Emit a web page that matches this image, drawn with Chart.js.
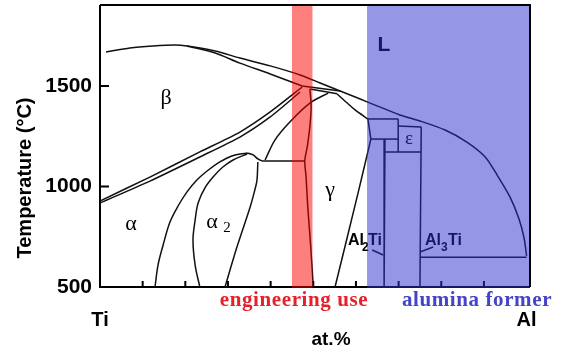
<!DOCTYPE html>
<html><head><meta charset="utf-8">
<script src="https://cdn.jsdelivr.net/npm/chart.js@4.4.1/dist/chart.umd.min.js"></script>
<style>html,body{margin:0;padding:0;background:#fff;overflow:hidden}#wrap{width:565px;height:347px;position:relative}</style>
</head><body><div id="wrap"><canvas id="c" width="565" height="347"></canvas></div>
<script>
// ---- axis ticks ----
const xTicks = [0,10,20,30,40,50,60,70,80,90,100];
const xTickLabels = {0:'Ti', 100:'Al'};
const yTicks = [500,1000,1500];
// ---- highlighted composition ranges (at.% Al) ----
const engineeringRange = [45, 49.8];
const aluminaRange = [62.6, 100.8];
// ---- phase boundaries [at.% Al, °C] ----
const liquidus = [[1.4,1669],[7.0,1689],[12.4,1699],[17.6,1704],[20.4,1699],[27.0,1674],[32.8,1639],[39.9,1600],[46.9,1555],[51.6,1515],[56.3,1475],[61.0,1435],[64.5,1405],[70.3,1356],[75.0,1326],[80.9,1281],[86.0,1221],[90.3,1147],[93.1,1057],[96.1,948],[98.2,840],[99.4,745],[100,655]];
const betaSolidus = [[20.4,1699],[27.0,1664],[32.8,1614],[39.9,1560],[47.4,1500]];
const betaTransusUpper = [[0,928],[11.7,1047],[23.4,1172],[32.8,1271],[39.9,1371],[47.4,1495]];
const betaTransusLower = [[0,918],[11.7,1027],[23.4,1147],[32.8,1246],[39.9,1346],[46.9,1470]];
const peritecticUpper = [[47.4,1500],[56.3,1475]];
const peritecticLower = [[49.2,1485],[55.6,1462]];
const alphaGammaLine = [[53.5,1465],[49.2,1415],[44.5,1321],[41.0,1231],[38.7,1132]];
const gammaLeft = [[49.2,1485],[49.5,1400],[49.2,1300],[48.6,1200],[48.0,1127],[48.3,1050],[48.7,900],[49.4,700],[50.0,500]];
const eutectoid = [[38.0,1127],[48.0,1127]];
const alphaBoundary = [[12.9,500],[13.6,609],[14.8,709],[16.4,823],[18.3,903],[20.4,973],[22.7,1032],[25.1,1077],[28.1,1122],[30.9,1152],[34.5,1167]];
const alpha2Left = [[23.4,500],[22.3,609],[21.8,734],[22.3,833],[23.0,918],[24.6,993],[26.5,1047],[28.8,1097],[31.2,1132],[34.5,1162]];
const alpha2Right = [[29.3,500],[32.1,699],[35.2,898],[36.3,983],[36.8,1032],[37.0,1122]];
const alpha2Top = [[34.5,1167],[35.9,1157],[37.0,1137],[38.0,1127]];
const gammaSolidus = [[55.6,1460],[59.8,1381],[62.8,1336]];
const gammaRight = [[63.5,1236],[60.5,968],[55.1,500]];
const boxTop = [[62.8,1336],[69.9,1336]];
const boxLeft = [[62.8,1336],[63.5,1236]];
const boxBottom = [[63.5,1236],[69.9,1236]];
const boxRight = [[69.9,1336],[69.9,1172]];
const al2TiLine = [[66.8,1236],[66.6,500]];
const midHorizontal = [[66.8,1172],[75.3,1172]];
const epsilonTop = [[69.9,1301],[75.3,1296]];
const al3TiLine = [[75.3,1296],[75.0,500]];
const al3TiLiquid = [[75.0,648],[100,648]];
const al2TiLeader = [[63.8,684],[66.4,659]];
const al3TiLeader = [[75.0,674],[78.1,699]];

const curves = [
  [liquidus,0.25],[betaSolidus,0.3],[betaTransusUpper,0.2],[betaTransusLower,0.2],
  [peritecticUpper,0],[peritecticLower,0],[alphaGammaLine,0.3],[gammaLeft,0.3],
  [eutectoid,0],[alphaBoundary,0.35],[alpha2Left,0.35],[alpha2Right,0.3],[alpha2Top,0.3],
  [gammaSolidus,0.2],[gammaRight,0.2],[boxTop,0],[boxLeft,0],[boxBottom,0],[boxRight,0],
  [al2TiLine,0],[midHorizontal,0],[epsilonTop,0],[al3TiLine,0],[al3TiLiquid,0],
  [al2TiLeader,0],[al3TiLeader,0]
];
const datasets = curves.map(([pts,t]) => ({
  data: pts.map(p => ({x:p[0], y:p[1]})),
  showLine: true, pointRadius: 0, borderColor: '#111', borderWidth: 1.5,
  tension: t, fill: false
}));

const SANS = '"Liberation Sans", Arial, sans-serif';
const SERIF = '"Liberation Serif", "Times New Roman", serif';

const deco = {
  id: 'deco',
  beforeDatasetsDraw(chart) {
    const {ctx, chartArea: a, scales: {x, y}} = chart;
    ctx.save();
    ctx.strokeStyle = '#000'; ctx.lineWidth = 2;
    ctx.beginPath();
    ctx.moveTo(a.left, a.top); ctx.lineTo(a.left, a.bottom); ctx.lineTo(a.right, a.bottom);
    xTicks.forEach(v => { if (v > 0 && v < 100) { const px = x.getPixelForValue(v); ctx.moveTo(px, a.bottom); ctx.lineTo(px, a.bottom - 6); } });
    yTicks.forEach(v => { if (v > 500) { const py = y.getPixelForValue(v); ctx.moveTo(a.left, py); ctx.lineTo(a.left + 9, py); } });
    ctx.stroke();
    ctx.fillStyle = '#000'; ctx.textAlign = 'center'; ctx.textBaseline = 'middle';
    ctx.font = '22px ' + SERIF;
    ctx.fillText('β', 166, 98);
    ctx.fillText('α', 131, 224);
    ctx.fillText('α', 212, 222);
    ctx.fillText('γ', 330, 190);
    ctx.font = '15px ' + SERIF;
    ctx.fillText('2', 227, 228);
    ctx.font = '19px ' + SERIF;
    ctx.fillText('ε', 409, 139);
    ctx.font = 'bold 21px ' + SANS;
    ctx.fillText('L', 384, 45);
    ctx.textAlign = 'left'; ctx.textBaseline = 'alphabetic';
    ctx.font = 'bold 16px ' + SANS;
    ctx.fillText('Al', 348, 245); ctx.fillText('Ti', 368, 245);
    ctx.fillText('Al', 425, 245); ctx.fillText('Ti', 448, 245);
    ctx.font = 'bold 12px ' + SANS;
    ctx.fillText('2', 362, 251); ctx.fillText('3', 441, 251);
    ctx.restore();
  },
  afterDatasetsDraw(chart) {
    const {ctx, chartArea: a, scales: {x}} = chart;
    ctx.save();
    ctx.fillStyle = 'rgba(255,0,0,0.5)';
    let x0 = x.getPixelForValue(engineeringRange[0]), x1 = x.getPixelForValue(engineeringRange[1]);
    ctx.fillRect(x0, a.top, x1 - x0, a.bottom - a.top + 1);
    ctx.fillStyle = 'rgba(45,45,205,0.5)';
    x0 = x.getPixelForValue(aluminaRange[0]); x1 = x.getPixelForValue(aluminaRange[1]);
    ctx.fillRect(x0, a.top, x1 - x0, a.bottom - a.top + 1);
    ctx.strokeStyle = '#000'; ctx.lineWidth = 2;
    ctx.beginPath();
    ctx.moveTo(a.left, a.top); ctx.lineTo(a.right, a.top); ctx.lineTo(a.right, a.bottom);
    ctx.stroke();
    ctx.textAlign = 'center'; ctx.textBaseline = 'alphabetic';
    ctx.font = 'bold 21px ' + SERIF;
    ctx.letterSpacing = '0.6px';
    ctx.fillStyle = '#e8202a';
    ctx.fillText('engineering use', 294, 306);
    ctx.fillStyle = '#4444c8';
    ctx.fillText('alumina former', 477, 306);
    ctx.letterSpacing = '0px';
    ctx.fillStyle = '#000';
    ctx.font = 'bold 19px ' + SANS;
    ctx.fillText('at.%', 331, 345);
    ctx.translate(25, 178); ctx.rotate(-Math.PI / 2);
    ctx.textBaseline = 'middle';
    ctx.font = 'bold 20px ' + SANS;
    ctx.fillText('Temperature (°C)', 0, 0);
    ctx.restore();
  }
};

new Chart(document.getElementById('c'), {
  type: 'scatter',
  data: { datasets },
  options: {
    responsive: false, animation: false, devicePixelRatio: 1,
    layout: { padding: { left: 40, top: 5, right: 35, bottom: 20 } },
    plugins: { legend: { display: false }, tooltip: { enabled: false } },
    scales: {
      x: {
        type: 'linear', position: 'bottom', min: 0, max: 100.8,
        afterBuildTicks: s => { s.ticks = xTicks.map(v => ({value: v})); },
        afterFit: s => { s.height = 40; s.paddingLeft = 0; s.paddingRight = 0; },
        grid: { display: false, drawTicks: false }, border: { display: false },
        ticks: { autoSkip: false, maxRotation: 0, padding: 21, color: '#000',
          font: { family: SANS, size: 20, weight: 'bold' },
          callback: v => xTickLabels[v] || '' }
      },
      y: {
        type: 'linear', min: 500, max: 1903,
        afterBuildTicks: s => { s.ticks = yTicks.map(v => ({value: v})); },
        afterFit: s => { s.width = 60; s.paddingTop = 0; s.paddingBottom = 0; },
        grid: { display: false, drawTicks: false }, border: { display: false },
        ticks: { padding: 8, color: '#000', font: { family: SANS, size: 21, weight: 'bold' },
          callback: v => String(v) }
      }
    }
  },
  plugins: [deco]
});
</script></body></html>
